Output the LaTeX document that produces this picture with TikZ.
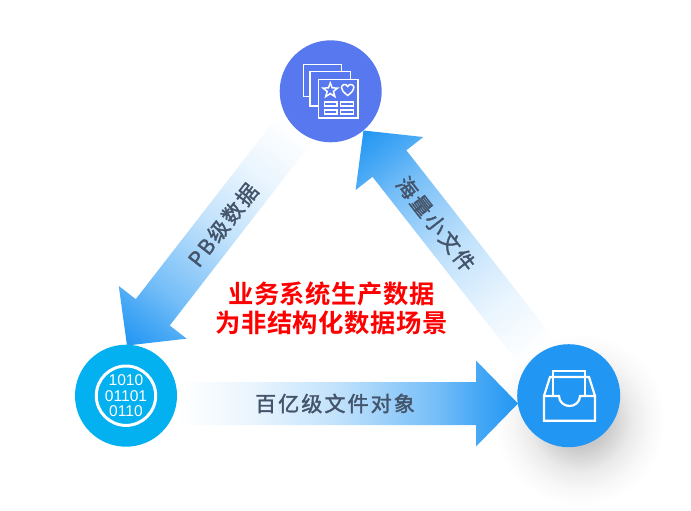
\documentclass[tikz,border=0pt]{standalone}
\usepackage{fontspec}
\setmainfont{Liberation Sans}
\newfontfamily\cjkgray[LetterSpace=10,FakeBold=1.7]{Noto Sans CJK SC}
\newfontfamily\cjkred[LetterSpace=2.4,BoldFont={Noto Sans CJK SC Bold}]{Noto Sans CJK SC}
\definecolor{arrowblue}{HTML}{2196F3}
\definecolor{topblue}{HTML}{5878EF}
\definecolor{leftblue}{HTML}{03B0F0}
\definecolor{labelgray}{HTML}{44546A}
\pgfdeclareradialshading{softshadow}{\pgfpoint{0bp}{0bp}}{
  color(0bp)=(black!27); color(8bp)=(black!21); color(15bp)=(black!8); color(20bp)=(black!3); color(25bp)=(white); color(50bp)=(white)}
\pgfdeclarehorizontalshading{arrowfade}{100bp}{
  color(0bp)=(white); color(25bp)=(white); color(35.5bp)=(arrowblue!9); color(48.5bp)=(arrowblue!28); color(63bp)=(arrowblue!62); color(68.8bp)=(arrowblue!82); color(75bp)=(arrowblue); color(100bp)=(arrowblue)}
\tikzset{
  circ/.style={circle,minimum size=#1,inner sep=0pt,outer sep=0pt},
  iconline/.style={draw=white,line width=1.5pt,fill=none},
  iconthick/.style={draw=white,line width=2.2pt,fill=none,line join=miter},
  graylabel/.style={text=labelgray,font=\cjkgray\fontsize{21}{24}\selectfont,inner sep=0pt},
  redlabel/.style={text=red,font=\cjkred\bfseries\fontsize{25.3}{30}\selectfont,inner sep=0pt},
}
% tip x, tip y, angle, total length
\newcommand{\blockarrow}[4]{%
  \shade[transform canvas={shift={(#1,#2)},rotate=#3},shading=arrowfade]
    (-#4,-21.5) -- (-42,-21.5) -- (-42,-43) -- (0,0) -- (-42,43) -- (-42,21.5) -- (-#4,21.5) -- cycle;}
\begin{document}
\begin{tikzpicture}[x=1pt,y=-1pt]
\useasboundingbox (0,0) rectangle (691,511);
\fill[white] (0,0) rectangle (691,511);
% shadow
\shade[shading=softshadow] (580,420) circle (86);
% arrows
\blockarrow{518}{403.5}{0}{340}
\blockarrow{127}{345.5}{232.2}{275}
\blockarrow{363.5}{130.5}{128.1}{282}
% discs
\node[circ=102pt,fill=topblue] (top) at (330.7,91.3) {};
\node[circ=102pt,fill=leftblue] (left) at (126,395.7) {};
\node[circ=103pt,fill=arrowblue] (right) at (568.7,395.7) {};
% top icon
\draw[iconline] (310,96.7) -- (303.3,96.7) -- (303.3,64.7) -- (341.3,64.7) -- (341.3,71.7);
\draw[iconline] (318.3,106) -- (310,106) -- (310,71.7) -- (350.7,71.7) -- (350.7,79.3);
\draw[iconline] (318.3,79.3) rectangle (358,118);
\draw[iconline,line join=miter] (330.3,83) -- (332.2,87.9) -- (337.6,88.1) -- (333.4,91.4) -- (334.9,96.6) -- (330.3,93.6) -- (325.7,96.6) -- (327.2,91.4) -- (323,88.1) -- (328.4,87.9) -- cycle;
\draw[iconline] (347.7,95.5) .. controls (343,92) and (341.5,89.5) .. (341.5,87.5) .. controls (341.5,84.5) and (346,83) .. (347.7,86.5) .. controls (349.4,83) and (353.9,84.5) .. (353.9,87.5) .. controls (353.9,89.5) and (352.4,92) .. (347.7,95.5) -- cycle;
\draw[iconline] (324.3,102) rectangle (337,106);
\draw[iconline] (340.7,102) rectangle (353.7,106);
\draw[iconline] (324.3,110) rectangle (337,114);
\draw[iconline] (340.7,110) rectangle (353.7,114);
% left icon
\draw[draw=white,line width=3pt] (left.center) circle (29.7);
\node[text=white,align=center,inner sep=0pt,font=\fontsize{15.6}{15.5}\selectfont] (bits) at (left.center) {1010\\01101\\0110};
% right icon
\draw[iconthick] (544,396) -- (559,396) .. controls (559,402) and (564,406) .. (569.5,406) .. controls (575,406) and (580,402) .. (580,396) -- (595,396) -- (595,420.7) -- (544,420.7) -- cycle;
\draw[iconthick] (544,396) -- (550,377) -- (589,377) -- (595,396);
\draw[iconthick] (553,377) -- (553,371) -- (585,371) -- (585,377);
\draw[iconthick,line width=1.6pt] (553,377) -- (553,396);
\draw[iconthick,line width=1.6pt] (585,377) -- (585,396);
% labels
\node[graylabel] (lbottom) at (335,403.5) {百亿级文件对象};
\node[graylabel,rotate=52] (lleft) at (223,225) {PB级数据};
\node[graylabel,rotate=-52] (lright) at (436,224) {海量小文件};
\node[redlabel] (red1) at (331.5,293.5) {业务系统生产数据};
\node[redlabel] (red2) at (331.5,323) {为非结构化数据场景};
\end{tikzpicture}
\end{document}
